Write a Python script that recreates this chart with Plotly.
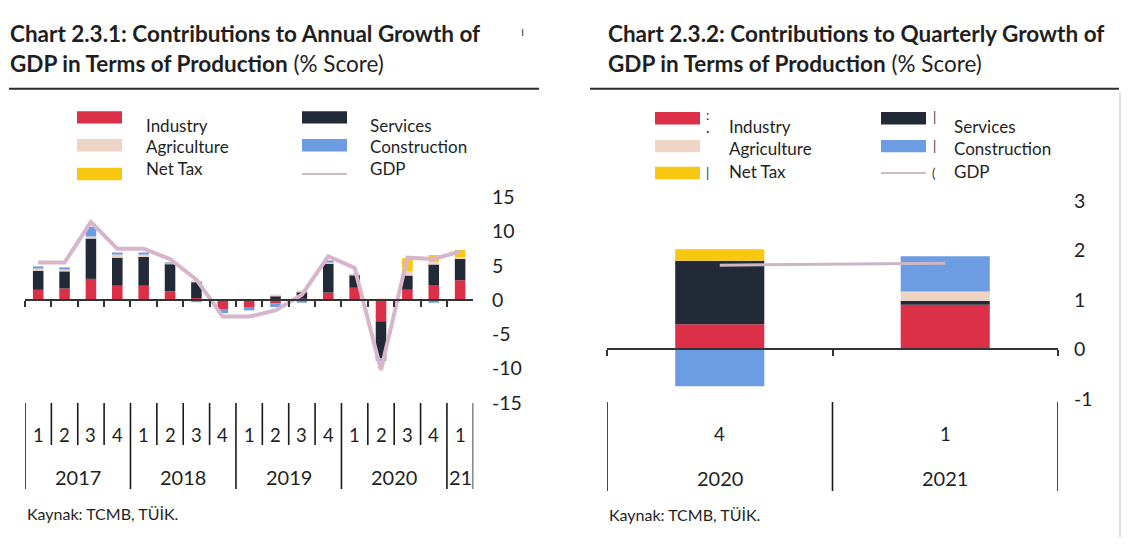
import plotly.graph_objects as go

# ---- Chart 2.3.1: annual growth contributions (17 quarters) ----
years_a = ["2017"] * 4 + ["2018"] * 4 + ["2019"] * 4 + ["2020"] * 4 + ["21"]
quarters_a = ["1", "2", "3", "4"] * 4 + ["1"]
industry_a = [1.5, 1.7, 3.1, 2.1, 2.1, 1.3, 0.3, -1.3, -1.0, -0.5, 0.2, 1.1, 1.8, -3.1, 1.5, 2.2, 2.9]
services_a = [2.8, 2.5, 5.9, 4.1, 4.2, 4.0, 2.4, 0.0, 0.0, 0.6, 1.0, 4.2, 1.9, -5.4, 2.1, 3.0, 3.1]
agriculture_a = [0.4, 0.4, 0.3, 0.5, 0.4, 0.1, 0.1, 0.1, 0.1, 0.1, 0.1, 0.3, 0.2, 0.2, 0.6, 0.4, 0.3]
construction_a = [0.1, 0.1, 1.4, 0.2, 0.2, 0.1, -0.3, -0.6, -0.5, -0.5, -0.4, 0.1, 0.0, -0.4, 0.0, -0.4, 0.0]
net_tax_a = [0.0, 0.0, 0.0, 0.0, 0.0, 0.0, 0.0, 0.0, 0.0, 0.0, 0.0, 0.0, 0.0, 0.0, 1.9, 1.0, 1.0]
gdp_a = [5.5, 5.5, 11.4, 7.5, 7.5, 6.0, 3.0, -2.4, -2.4, -1.5, 0.8, 6.4, 4.7, -10.2, 6.2, 6.0, 7.1]
yticks_a = [-15, -10, -5, 0, 5, 10, 15]

# ---- Chart 2.3.2: quarterly growth contributions ----
years_q = ["2020", "2021"]
quarters_q = ["4", "1"]
industry_q = [0.51, 0.90]
services_q = [1.28, 0.08]
agriculture_q = [0.0, 0.19]
construction_q = [-0.74, 0.71]
net_tax_q = [0.23, 0.0]
gdp_q = [1.70, 1.74]
yticks_q = [-1, 0, 1, 2, 3]

series_names = ["Industry", "Services", "Agriculture", "Construction", "Net Tax", "GDP"]
colors = {
    "Industry": "#DC3049",
    "Services": "#232A37",
    "Agriculture": "#EED4C4",
    "Construction": "#6C9DE2",
    "Net Tax": "#F8C70F",
    "GDP": "#D7B5CA",
}

FONT = "Lato"
TXT = "#1f1f1f"
W, H = 1128, 548


def fx(x):
    return x / W


def fy(y):
    return 1 - y / H


cats_a = [f"{y}-Q{q}" for y, q in zip(years_a, quarters_a)]
cats_q = [f"{y}-Q{q}" for y, q in zip(years_q, quarters_q)]

fig = go.Figure()

left_series = {
    "Industry": industry_a,
    "Services": services_a,
    "Agriculture": agriculture_a,
    "Construction": construction_a,
    "Net Tax": net_tax_a,
}
right_series = {
    "Industry": industry_q,
    "Services": services_q,
    "Agriculture": agriculture_q,
    "Construction": construction_q,
    "Net Tax": net_tax_q,
}

for name, vals in left_series.items():
    fig.add_trace(go.Bar(x=cats_a, y=vals, name=name, marker_color=colors[name],
                         marker_line_width=0, width=0.4, xaxis="x", yaxis="y",
                         showlegend=False))
fig.add_trace(go.Scatter(x=cats_a, y=gdp_a, name="GDP", mode="lines",
                         line=dict(color=colors["GDP"], width=4), xaxis="x", yaxis="y",
                         showlegend=False))

for name, vals in right_series.items():
    fig.add_trace(go.Bar(x=cats_q, y=vals, name=name, marker_color=colors[name],
                         marker_line_width=0, width=0.395, xaxis="x2", yaxis="y2",
                         showlegend=False))
fig.add_trace(go.Scatter(x=cats_q, y=gdp_q, name="GDP", mode="lines",
                         line=dict(color="#CBB6C4", width=3), xaxis="x2", yaxis="y2",
                         showlegend=False))

# plot geometry (pixels)
LA_X0, LA_X1, LA_YT, LA_YB = 25, 473.3, 193.5, 408
RA_X0, RA_X1, RA_YT, RA_YB = 607, 1058, 197, 404
zero_a = LA_YT + (15 / 30) * (LA_YB - LA_YT)
zero_q = RA_YT + (3 / 4) * (RA_YB - RA_YT)

axis_common = dict(type="category", showticklabels=False, showgrid=False, zeroline=False,
                   showline=True, linecolor="#333333", linewidth=1.5, ticks="outside",
                   tickson="boundaries", ticklen=6, tickcolor="#333333", tickwidth=1.5,
                   anchor="free", fixedrange=True)

fig.update_layout(
    width=W, height=H,
    margin=dict(l=0, r=0, t=0, b=0),
    paper_bgcolor="white", plot_bgcolor="white",
    barmode="relative",
    font=dict(family=FONT, color=TXT),
    xaxis=dict(axis_common, categoryarray=cats_a, range=[-0.5, len(cats_a) - 0.5],
               domain=[fx(LA_X0), fx(LA_X1)], position=fy(zero_a)),
    yaxis=dict(range=[-15, 15], domain=[fy(LA_YB), fy(LA_YT)], side="right",
               anchor="free", position=fx(491), tickvals=yticks_a,
               ticktext=[str(v) for v in yticks_a], ticks="",
               showline=False, showgrid=False, zeroline=False,
               tickfont=dict(size=19.5, color=TXT, family=FONT)),
    xaxis2=dict(axis_common, categoryarray=cats_q, range=[-0.5, len(cats_q) - 0.5],
                domain=[fx(RA_X0), fx(RA_X1)], position=fy(zero_q)),
    yaxis2=dict(range=[-1, 3], domain=[fy(RA_YB), fy(RA_YT)], side="right",
                anchor="free", position=fx(1073), tickvals=yticks_q,
                ticktext=[str(v) for v in yticks_q], ticks="",
                showline=False, showgrid=False, zeroline=False,
                tickfont=dict(size=19.5, color=TXT, family=FONT)),
)

shapes = []
ann = []


def text(x, y, s, size, anchor="left", color=TXT, xref="paper"):
    ann.append(dict(x=x, y=y, xref=xref, yref="paper", text=s,
                    showarrow=False, xanchor=anchor, yanchor="middle",
                    font=dict(family=FONT, size=size, color=color)))


# titles and rules
TITLE = 22.5
text(fx(8), fy(22), "<b>Chart 2.3.1: Contributions to Annual Growth of</b>", TITLE)
text(fx(8), fy(54), "<b>GDP in Terms of Production</b> (% Score)", TITLE)
text(fx(606), fy(22), "<b>Chart 2.3.2: Contributions to Quarterly Growth of</b>", TITLE)
text(fx(606), fy(54), "<b>GDP in Terms of Production</b> (% Score)", TITLE)
text(fx(522), fy(20), "ı", 13, anchor="center", color="#555")
for x0, x1 in [(9, 539), (590, 1119)]:
    shapes.append(dict(type="line", xref="paper", yref="paper", x0=fx(x0), x1=fx(x1),
                       y0=fy(80), y1=fy(80), line=dict(color="#2b2b2b", width=2)))


# legends: three rows per column
def legend(col_x, text_x, sw_rows, txt_rows, sw_w, gdp_w):
    order = [["Industry", "Agriculture", "Net Tax"], ["Services", "Construction", "GDP"]]
    for c, names in enumerate(order):
        for r, name in enumerate(names):
            sx = col_x[c]
            if name == "GDP":
                shapes.append(dict(type="line", xref="paper", yref="paper", x0=fx(sx),
                                   x1=fx(sx + sw_w), y0=fy(sw_rows[r]), y1=fy(sw_rows[r]),
                                   line=dict(color="#CDBAC4", width=gdp_w)))
            else:
                shapes.append(dict(type="rect", xref="paper", yref="paper", x0=fx(sx),
                                   x1=fx(sx + sw_w), y0=fy(sw_rows[r] - 6.5),
                                   y1=fy(sw_rows[r] + 6.5), fillcolor=colors[name],
                                   line=dict(width=0), layer="above"))
            text(fx(text_x[c]), fy(txt_rows[r]), name, 17)


legend([77, 302], [144, 368], [110, 139, 169], [118, 140, 163], 45, 2)
legend([655, 881], [727, 952], [111, 140, 168], [120, 143, 167], 45, 2)
for x, y, s in [(707, 108, ":"), (707, 124, "·"), (707, 168, "|"),
                (934, 110, "|"), (934, 140, "|"), (934, 168, "(")]:
    text(fx(x), fy(y), s, 13, anchor="center", color="#333")

# category tables under each plot
for i in range(len(cats_a) + 1):
    edge = i == 0 or i == len(cats_a) or years_a[i] != years_a[i - 1]
    shapes.append(dict(type="line", xref="x", yref="paper", x0=i - 0.5, x1=i - 0.5,
                       y0=fy(408), y1=fy(498 if edge else 452),
                       line=dict(color="#1a1a1a", width=1.6)))
for i, q in enumerate(quarters_a):
    ann.append(dict(x=i, y=fy(442), xref="x", yref="paper", text=q, showarrow=False,
                    xanchor="center", yanchor="middle", font=dict(family=FONT, size=18.5, color=TXT)))
seen = []
for y in years_a:
    if y not in seen:
        seen.append(y)
for y in seen:
    idx = [i for i, v in enumerate(years_a) if v == y]
    ann.append(dict(x=sum(idx) / len(idx), y=fy(485), xref="x", yref="paper", text=y,
                    showarrow=False, xanchor="center", yanchor="middle",
                    font=dict(family=FONT, size=20, color=TXT)))

for i in range(len(cats_q) + 1):
    shapes.append(dict(type="line", xref="x2", yref="paper", x0=i - 0.5, x1=i - 0.5,
                       y0=fy(407), y1=fy(500), line=dict(color="#1a1a1a", width=1.6)))
for i, (q, y) in enumerate(zip(quarters_q, years_q)):
    ann.append(dict(x=i, y=fy(440), xref="x2", yref="paper", text=q, showarrow=False,
                    xanchor="center", yanchor="middle", font=dict(family=FONT, size=18.5, color=TXT)))
    ann.append(dict(x=i, y=fy(486), xref="x2", yref="paper", text=y, showarrow=False,
                    xanchor="center", yanchor="middle", font=dict(family=FONT, size=20, color=TXT)))

# source notes
text(fx(25), fy(523), "Kaynak: TCMB, TÜİK.", 16)
text(fx(607), fy(525), "Kaynak: TCMB, TÜİK.", 16)

# page border on the right
shapes.append(dict(type="line", xref="paper", yref="paper", x0=fx(1120), x1=fx(1120),
                   y0=fy(84), y1=0, line=dict(color="#d4d4d4", width=1.5)))

fig.update_layout(shapes=shapes, annotations=ann)
fig.write_html("out.html")
